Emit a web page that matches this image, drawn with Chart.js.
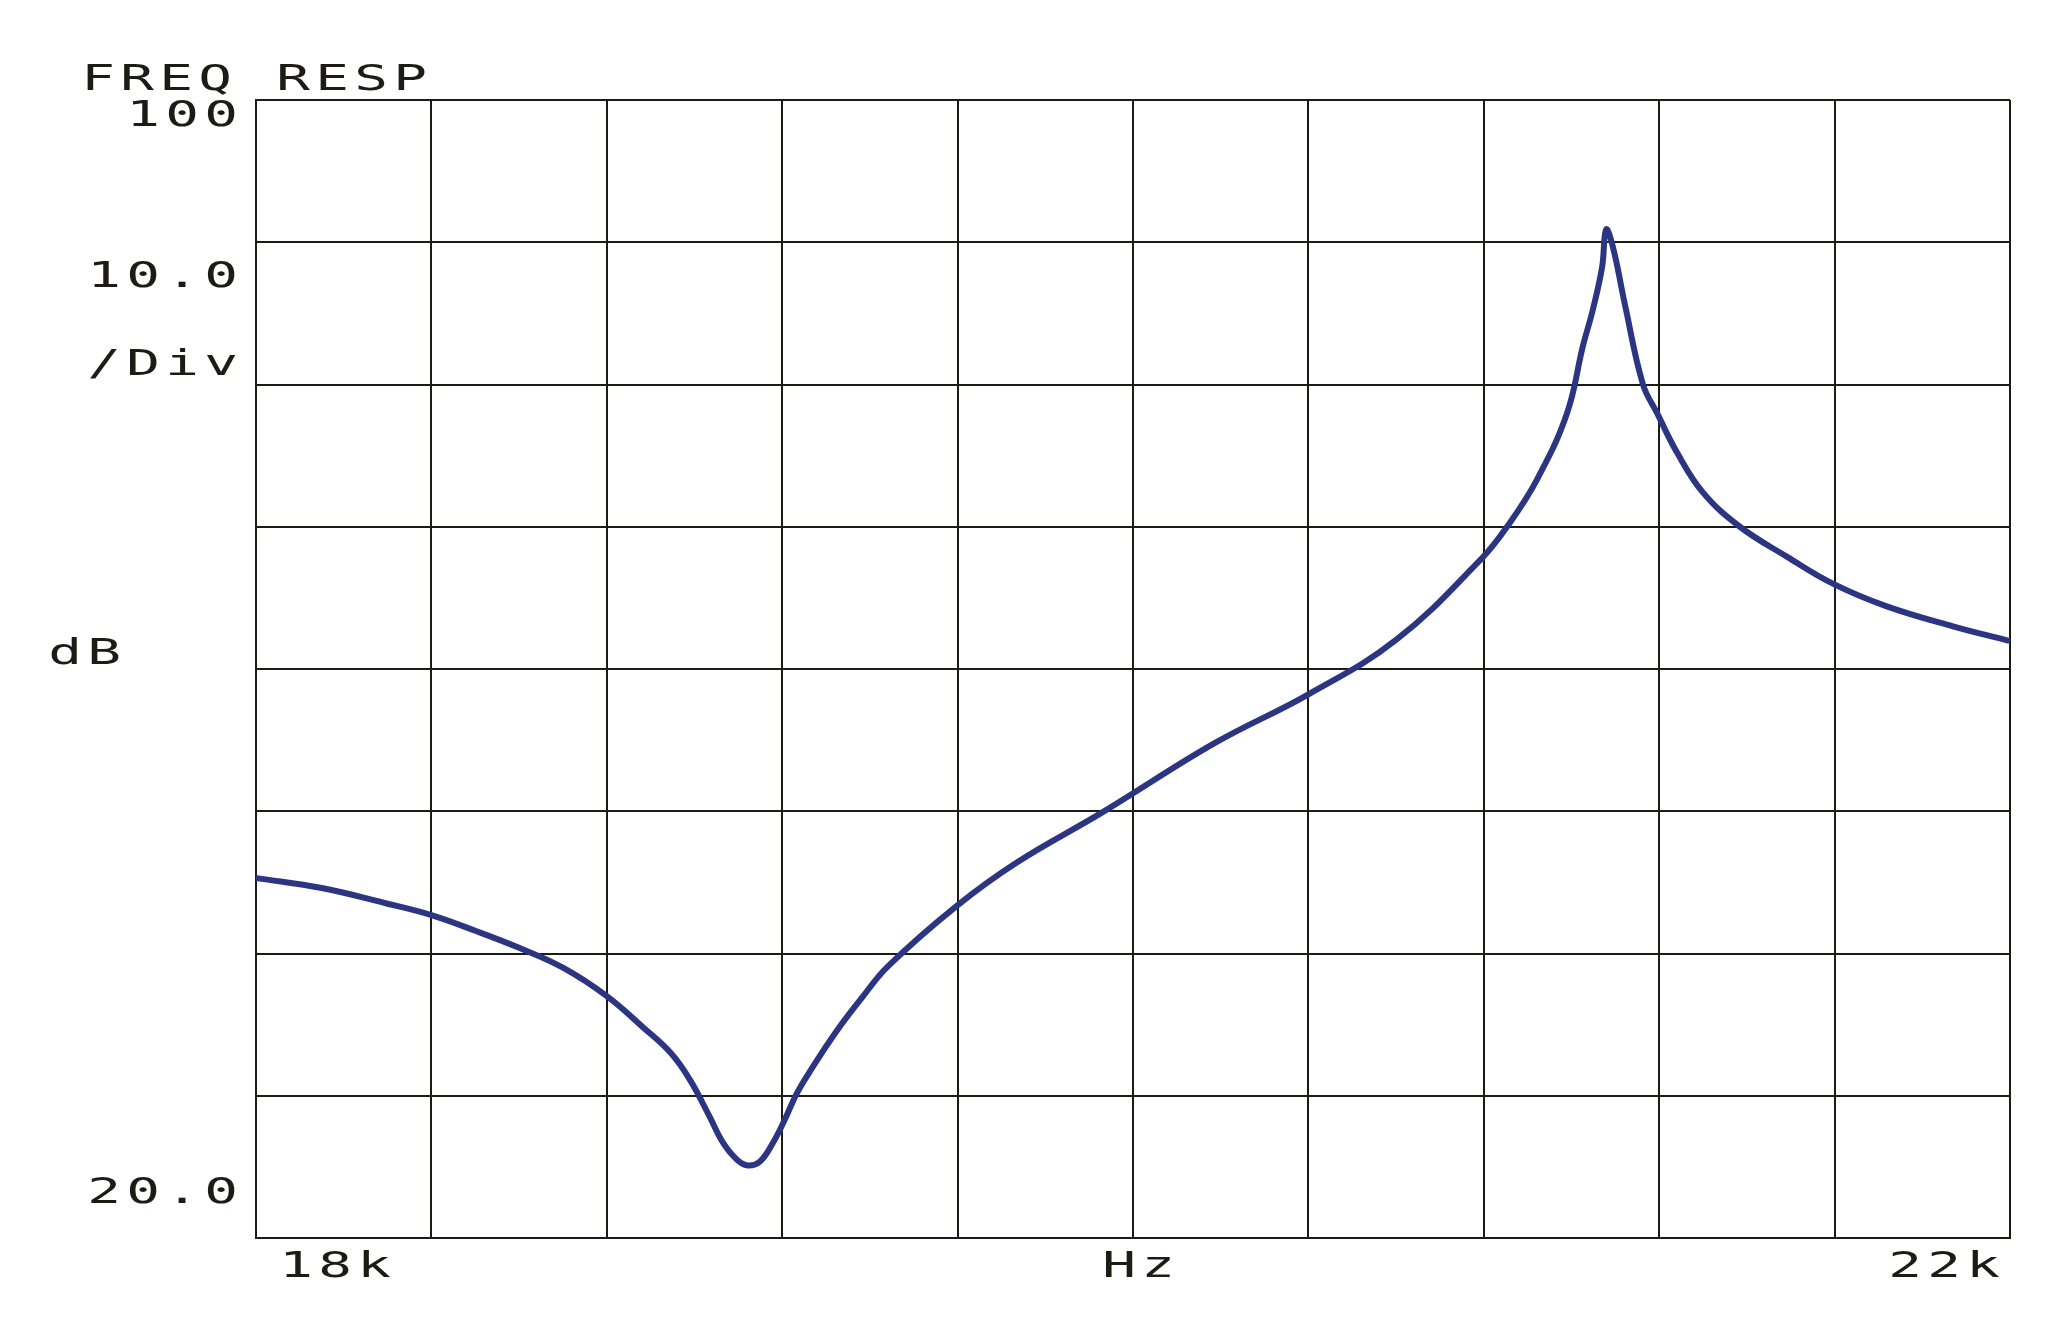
<!DOCTYPE html>
<html>
<head>
<meta charset="utf-8">
<title>FREQ RESP</title>
<script src="https://cdn.jsdelivr.net/npm/chart.js@4.4.1/dist/chart.umd.min.js"></script>
<style>
  html, body { margin: 0; padding: 0; background: #ffffff; }
  #wrap { width: 2048px; height: 1332px; }
</style>
</head>
<body>
<div id="wrap"><canvas id="freqChart" width="2048" height="1332"></canvas></div>
<script>
// Sweep data (Hz, dB)
const freqHz = [18002, 18150, 18300, 18400, 18500, 18600, 18700, 18800, 18883,
  18946, 18990, 19035, 19065, 19097, 19122, 19150, 19179, 19204, 19234,
  19263, 19323, 19382, 19441, 19596, 19735, 19929, 20187, 20399, 20602, 20796,
  20853, 20921, 20990, 21026, 21049, 21070, 21079, 21095,
  21122, 21163, 21195, 21241, 21300, 21384, 21491, 21596,
  21719, 21870, 21995];
const levelDb = [45.3, 44.6, 43.5, 42.7, 41.6, 40.4, 39.0, 37.0, 34.8,
  33.0, 31.1, 28.5, 26.7, 25.5, 25.1, 25.4, 26.7, 28.2, 30.2,
  31.7, 34.5, 36.9, 39.1, 43.3, 46.4, 49.9, 54.8, 58.2, 62.1, 67.8,
  70.0, 73.3, 78.0, 82.7, 85.3, 88.3, 90.9, 89.6,
  85.6, 80.0, 78.0, 75.2, 72.4, 70.0, 67.9, 66.0,
  64.4, 63.0, 62.0];

// Axis range and texts
const freqRange = [18000, 22000, 400];
const dbRange = [20, 100, 10];
const titleText = 'FREQ RESP';
const yLabels = ['100', '10.0', '/Div', '20.0'];
const yUnit = 'dB';
const xLabels = ['18k', 'Hz', '22k'];

const ink = '#1c1c14';
const pitch = 39;

// draws plotter-style text one char per cell, cx = centre of first cell
function plotText(ctx, str, cx, baseline) {
  for (let i = 0; i < str.length; i++) {
    ctx.save();
    ctx.translate(cx + i * pitch, baseline);
    ctx.scale(1.6, 1);
    ctx.fillText(str[i], 0, 0);
    ctx.restore();
  }
}
// right-aligned variant: last cell centre at rx
function plotTextRight(ctx, str, rx, baseline) {
  plotText(ctx, str, rx - (str.length - 1) * pitch, baseline);
}

const labelPlugin = {
  id: 'plotterLabels',
  afterDraw(chart) {
    const ctx = chart.ctx;
    const a = chart.chartArea;
    const xs = chart.scales.x;
    ctx.save();
    ctx.fillStyle = ink;
    ctx.font = '35px "DejaVu Sans Mono"';
    ctx.textAlign = 'center';
    ctx.textBaseline = 'alphabetic';

    plotText(ctx, titleText, 98, a.top - 10);

    const rx = a.left - 35;
    plotTextRight(ctx, yLabels[0], rx, a.top + 26);
    plotTextRight(ctx, yLabels[1], rx, 287);
    plotTextRight(ctx, yLabels[2], rx, 375);
    plotTextRight(ctx, yLabels[3], rx, a.bottom - 35);
    plotTextRight(ctx, yUnit, rx - 3 * pitch, 664);

    const by = a.bottom + 39;
    plotText(ctx, xLabels[0], xs.getPixelForValue(freqRange[0]) + 40, by);
    plotText(ctx, xLabels[1], xs.getPixelForValue(20000) - 14, by);
    plotTextRight(ctx, xLabels[2], xs.getPixelForValue(freqRange[1]) - 27, by);
    ctx.restore();
  }
};

const gridStyle = { color: ink, lineWidth: 2, drawTicks: false, tickLength: 0 };

new Chart(document.getElementById('freqChart'), {
  type: 'line',
  data: {
    datasets: [{
      data: freqHz.map((f, i) => ({ x: f, y: levelDb[i] })),
      borderColor: '#2b3582',
      borderWidth: 6,
      pointRadius: 0,
      fill: false,
      tension: 0.4,
      borderJoinStyle: 'round',
      borderCapStyle: 'round'
    }]
  },
  options: {
    responsive: false,
    animation: false,
    layout: { padding: { left: 256, top: 100, right: 38, bottom: 94 } },
    plugins: { legend: { display: false }, tooltip: { enabled: false } },
    scales: {
      x: {
        type: 'linear',
        min: freqRange[0], max: freqRange[1],
        ticks: { stepSize: freqRange[2], display: false },
        grid: gridStyle,
        border: { color: ink, width: 2 }
      },
      y: {
        min: dbRange[0], max: dbRange[1],
        ticks: { stepSize: dbRange[2], display: false },
        grid: gridStyle,
        border: { color: ink, width: 2 }
      }
    }
  },
  plugins: [labelPlugin]
});
</script>
</body>
</html>
